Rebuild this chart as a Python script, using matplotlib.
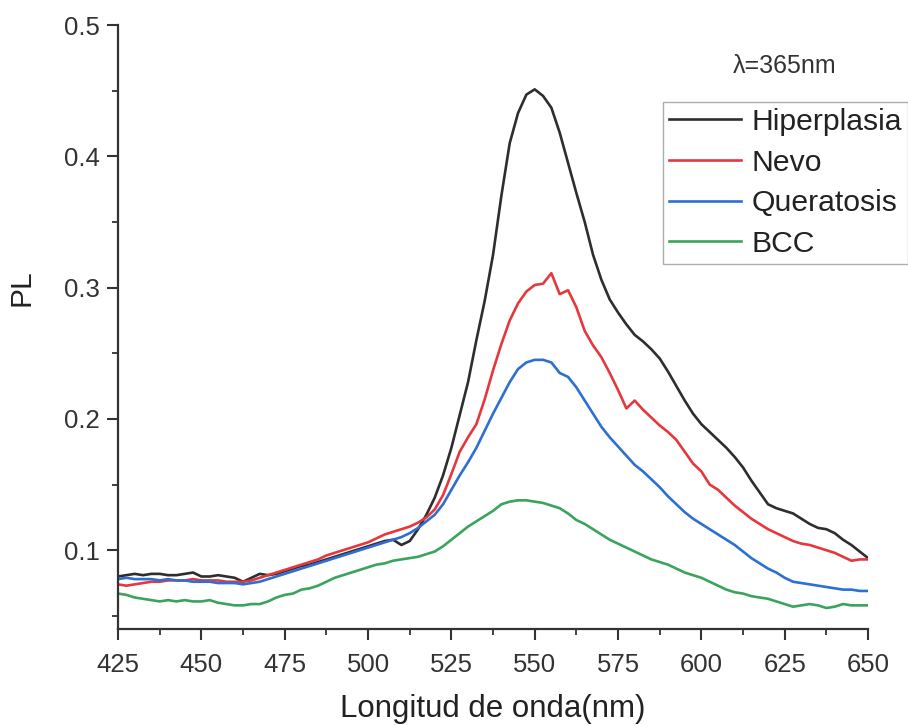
import numpy as np
import matplotlib
matplotlib.use("Agg")
import matplotlib.pyplot as plt
from matplotlib.ticker import MultipleLocator

plt.rcParams['font.family'] = ['Liberation Sans', 'DejaVu Sans']

# Wavelength grid (nm)
wavelength = np.arange(425.0, 650.01, 2.5)

hiperplasia = [
    0.080, 0.081, 0.082, 0.081, 0.082, 0.082, 0.081, 0.081, 0.082, 0.083,
    0.080, 0.080, 0.081, 0.080, 0.079, 0.076, 0.079, 0.082, 0.081, 0.082,
    0.084, 0.086, 0.088, 0.089, 0.091, 0.093, 0.095, 0.097, 0.099, 0.101,
    0.103, 0.105, 0.107, 0.108, 0.104, 0.107, 0.116, 0.127, 0.140, 0.157,
    0.178, 0.203, 0.228, 0.260, 0.290, 0.325, 0.370, 0.410, 0.433, 0.447,
    0.451, 0.446, 0.437, 0.418, 0.395, 0.372, 0.350, 0.325, 0.306, 0.291,
    0.281, 0.272, 0.264, 0.259, 0.253, 0.246, 0.236, 0.225, 0.214, 0.204,
    0.196, 0.190, 0.184, 0.178, 0.171, 0.163, 0.153, 0.144, 0.135, 0.132,
    0.130, 0.128, 0.124, 0.120, 0.117, 0.116, 0.113, 0.108, 0.104, 0.099,
    0.094,
]

nevo = [
    0.074, 0.073, 0.074, 0.075, 0.076, 0.076, 0.077, 0.077, 0.077, 0.078,
    0.077, 0.077, 0.077, 0.076, 0.076, 0.076, 0.077, 0.079, 0.081, 0.083,
    0.085, 0.087, 0.089, 0.091, 0.093, 0.096, 0.098, 0.100, 0.102, 0.104,
    0.106, 0.109, 0.112, 0.114, 0.116, 0.118, 0.121, 0.125, 0.131, 0.142,
    0.158, 0.175, 0.186, 0.196, 0.215, 0.237, 0.257, 0.275, 0.288, 0.297,
    0.302, 0.303, 0.311, 0.295, 0.298, 0.285, 0.267, 0.256, 0.247, 0.235,
    0.222, 0.208, 0.214, 0.207, 0.201, 0.195, 0.190, 0.184, 0.175, 0.166,
    0.160, 0.150, 0.146, 0.140, 0.134, 0.129, 0.124, 0.120, 0.116, 0.113,
    0.110, 0.107, 0.105, 0.104, 0.102, 0.100, 0.098, 0.095, 0.092, 0.093,
    0.093,
]

queratosis = [
    0.078, 0.079, 0.078, 0.078, 0.078, 0.077, 0.078, 0.077, 0.077, 0.076,
    0.076, 0.076, 0.075, 0.075, 0.075, 0.074, 0.075, 0.076, 0.078, 0.080,
    0.082, 0.084, 0.086, 0.088, 0.090, 0.092, 0.094, 0.096, 0.098, 0.100,
    0.102, 0.104, 0.106, 0.108, 0.110, 0.113, 0.117, 0.122, 0.127, 0.135,
    0.146, 0.157, 0.167, 0.178, 0.191, 0.204, 0.216, 0.228, 0.238, 0.243,
    0.245, 0.245, 0.243, 0.235, 0.232, 0.224, 0.214, 0.204, 0.194, 0.186,
    0.179, 0.172, 0.165, 0.160, 0.154, 0.148, 0.141, 0.135, 0.129, 0.124,
    0.120, 0.116, 0.112, 0.108, 0.104, 0.099, 0.094, 0.090, 0.086, 0.083,
    0.079, 0.076, 0.075, 0.074, 0.073, 0.072, 0.071, 0.070, 0.070, 0.069,
    0.069,
]

bcc = [
    0.067, 0.066, 0.064, 0.063, 0.062, 0.061, 0.062, 0.061, 0.062, 0.061,
    0.061, 0.062, 0.060, 0.059, 0.058, 0.058, 0.059, 0.059, 0.061, 0.064,
    0.066, 0.067, 0.070, 0.071, 0.073, 0.076, 0.079, 0.081, 0.083, 0.085,
    0.087, 0.089, 0.090, 0.092, 0.093, 0.094, 0.095, 0.097, 0.099, 0.103,
    0.108, 0.113, 0.118, 0.122, 0.126, 0.130, 0.135, 0.137, 0.138, 0.138,
    0.137, 0.136, 0.134, 0.132, 0.128, 0.123, 0.120, 0.116, 0.112, 0.108,
    0.105, 0.102, 0.099, 0.096, 0.093, 0.091, 0.089, 0.086, 0.083, 0.081,
    0.079, 0.076, 0.073, 0.070, 0.068, 0.067, 0.065, 0.064, 0.063, 0.061,
    0.059, 0.057, 0.058, 0.059, 0.058, 0.056, 0.057, 0.059, 0.058, 0.058,
    0.058,
]

series_names = ["Hiperplasia", "Nevo", "Queratosis", "BCC"]
series_values = [hiperplasia, nevo, queratosis, bcc]
series_colors = ["#2e2e2e", "#e4383e", "#2d6fd2", "#3aa35c"]

x_ticks = [425, 450, 475, 500, 525, 550, 575, 600, 625, 650]
y_ticks = [0.1, 0.2, 0.3, 0.4, 0.5]

fig = plt.figure(figsize=(9.08, 7.25), dpi=100)
ax = fig.add_axes([0.130, 0.1324, 0.826, 0.8331])

for name, vals, col in zip(series_names, series_values, series_colors):
    ax.plot(wavelength, vals, color=col, lw=1.9, label=name)

ax.set_xlim(425, 650)
ax.set_ylim(0.04, 0.5)
ax.set_xticks(x_ticks)
ax.set_xticklabels([str(t) for t in x_ticks])
ax.set_yticks(y_ticks)
ax.set_yticklabels([f"{t:.1f}" for t in y_ticks])
ax.xaxis.set_minor_locator(MultipleLocator(12.5))
ax.yaxis.set_minor_locator(MultipleLocator(0.05))

for s in ("top", "right"):
    ax.spines[s].set_visible(False)
for s in ("left", "bottom"):
    ax.spines[s].set_linewidth(1.6)
    ax.spines[s].set_color("#333333")

ax.tick_params(which="major", direction="out", length=8, width=1.5,
               colors="#333333", labelsize=18.5, labelcolor="#333333")
ax.tick_params(axis="y", which="major", pad=5)
ax.tick_params(axis="x", which="major", pad=9)
ax.tick_params(which="minor", direction="out", length=4.5, width=1.3,
               colors="#333333")

ax.set_xlabel("Longitud de onda(nm)", fontsize=22.5, color="#222222")
ax.set_ylabel("PL", fontsize=21.5, color="#222222")
ax.xaxis.set_label_coords(0.5, -0.108)
ax.yaxis.set_label_coords(-0.110, 0.565)

ax.text(0.889, 0.932, "λ=365nm", transform=ax.transAxes, fontsize=18,
        ha="center", va="center", color="#333333")

leg = ax.legend(loc="upper left", bbox_to_anchor=(663 / 908, 1 - 102 / 725),
                bbox_transform=fig.transFigure, fontsize=21.7, frameon=True,
                fancybox=False, edgecolor="#999999", handlelength=2.4,
                handletextpad=0.33, borderpad=0.2, labelspacing=0.42,
                borderaxespad=0.0)
leg.get_frame().set_linewidth(1.0)
for t in leg.get_texts():
    t.set_color("#222222")

fig.savefig("out.png", dpi=100)
